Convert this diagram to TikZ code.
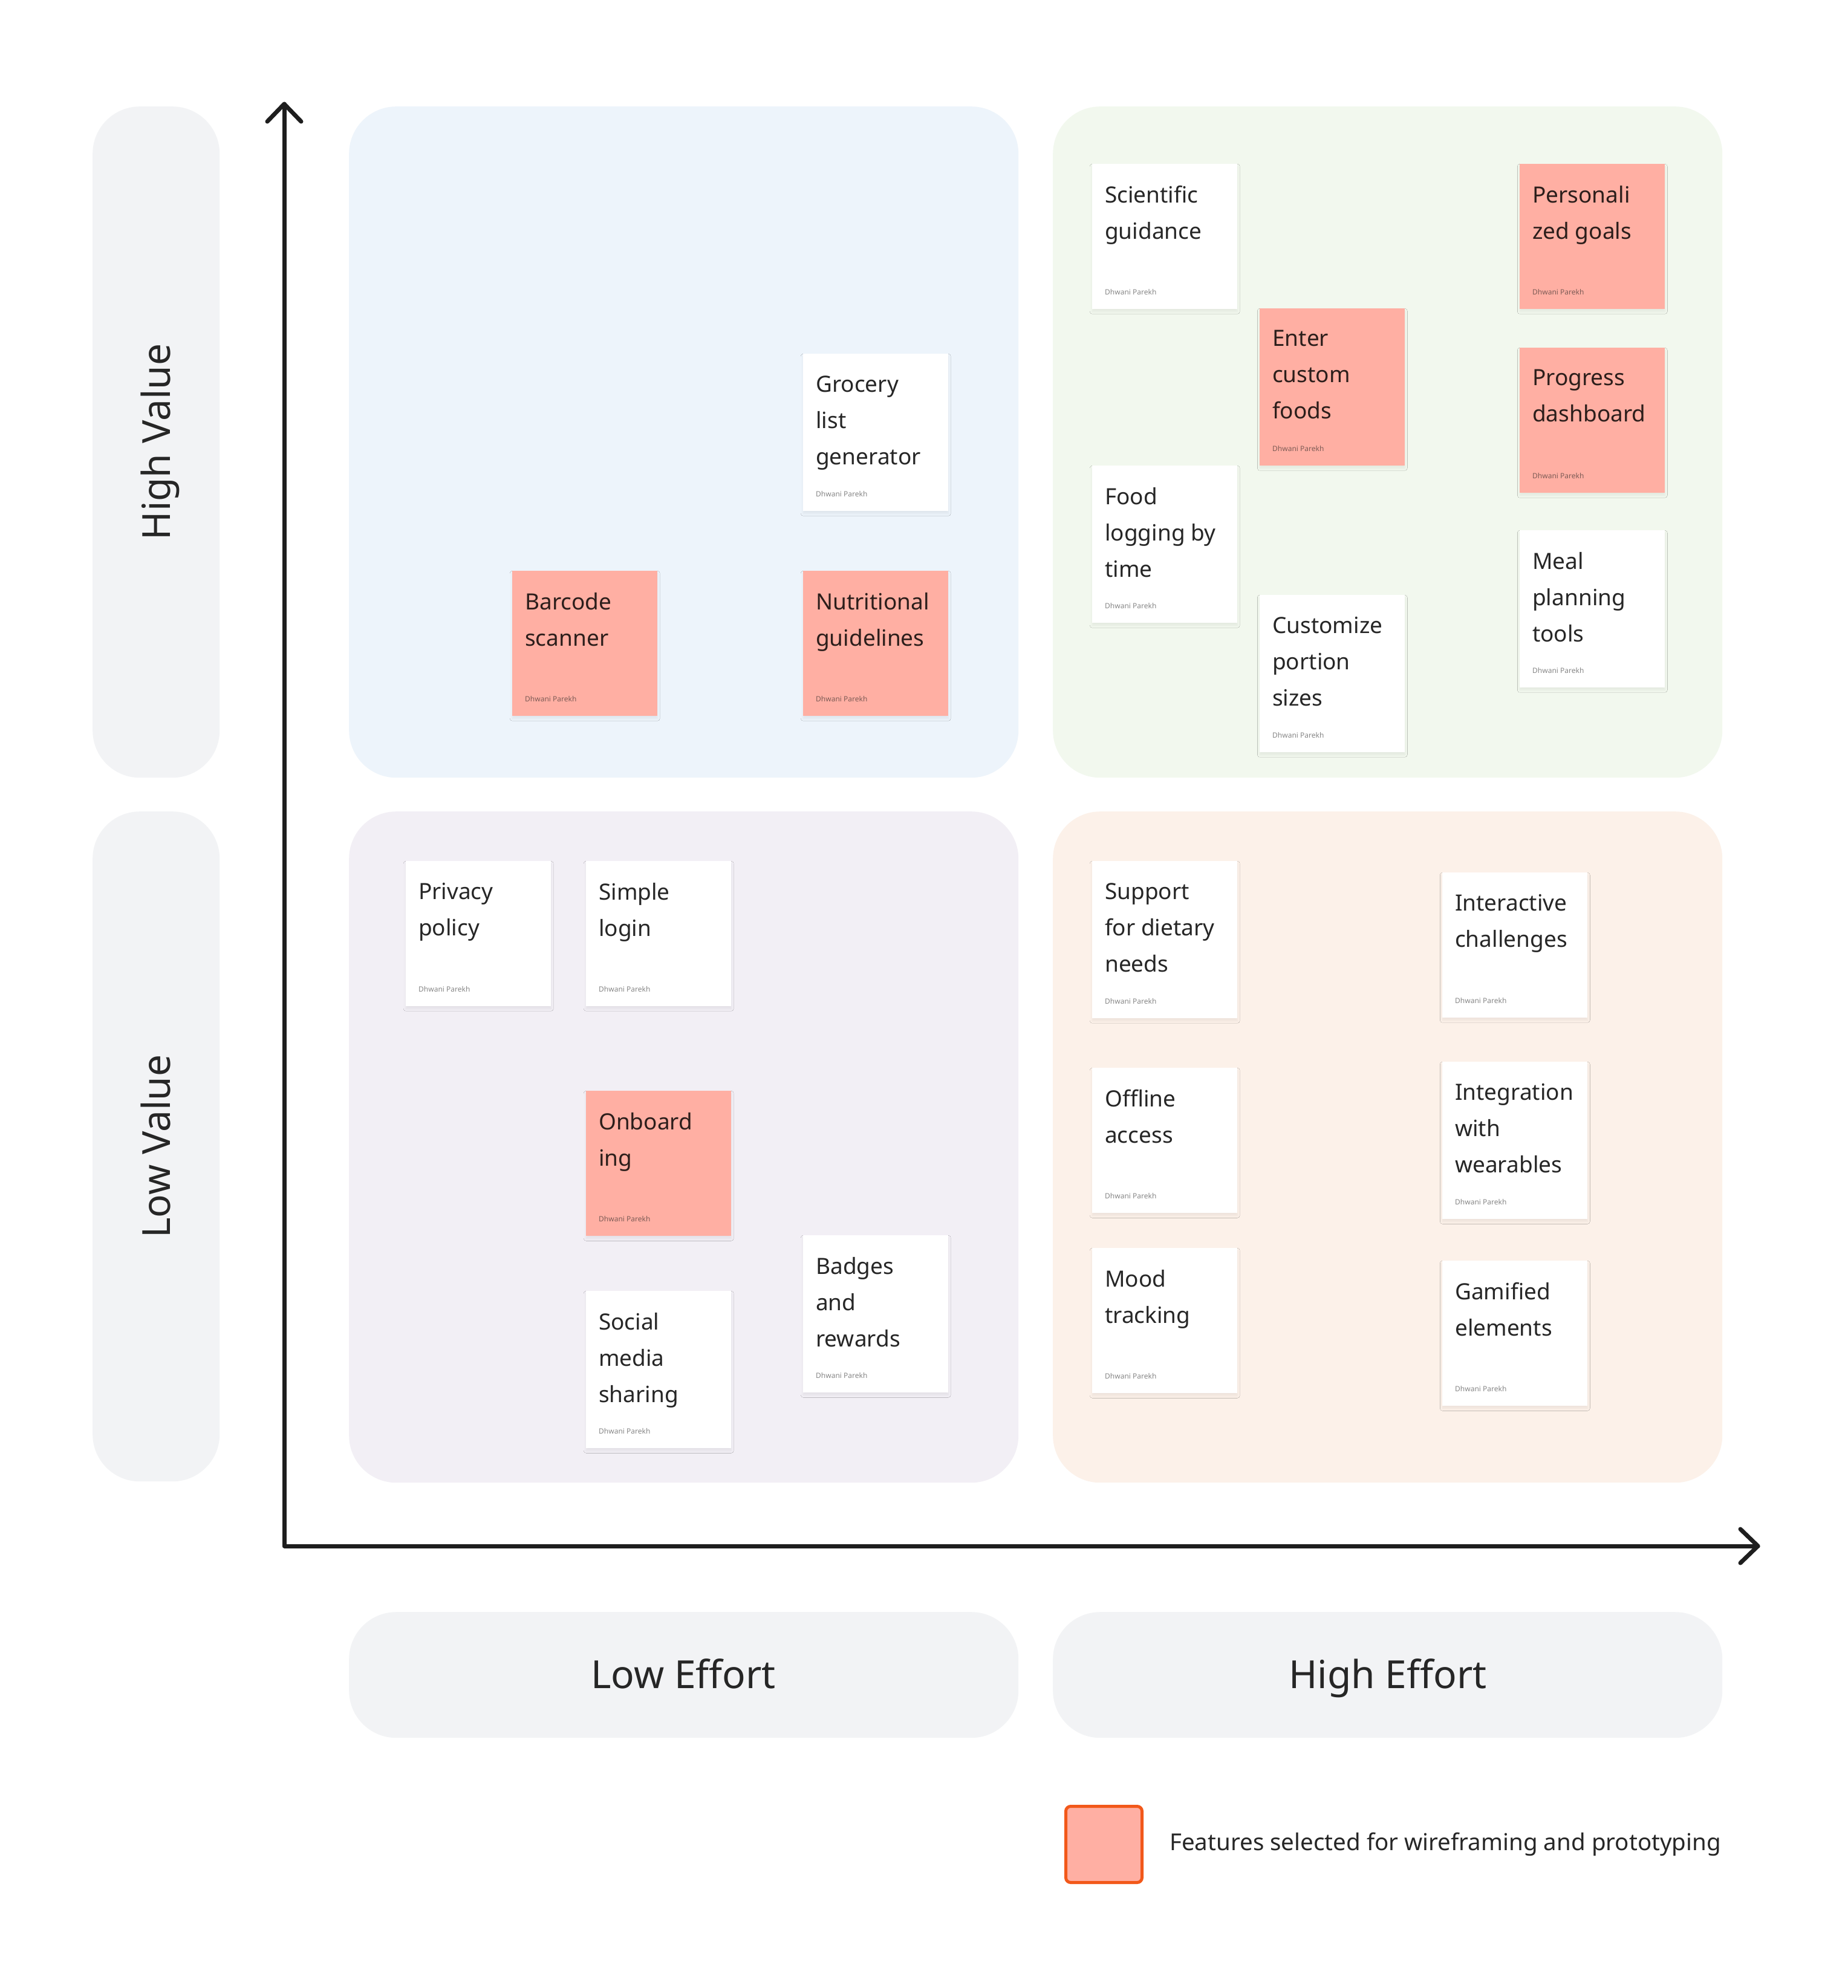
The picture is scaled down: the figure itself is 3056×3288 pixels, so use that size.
\documentclass[tikz,border=0pt]{standalone}
\usepackage{fontspec}
\setmainfont{Noto Sans}
\usetikzlibrary{calc,shadows.blur}
\definecolor{qblue}{RGB}{237,244,251}
\definecolor{qgreen}{RGB}{242,248,238}
\definecolor{qlav}{RGB}{242,239,245}
\definecolor{qpeach}{RGB}{252,241,233}
\definecolor{lgray}{RGB}{242,243,245}
\definecolor{salmon}{RGB}{255,175,163}
\definecolor{legborder}{RGB}{242,88,26}
\definecolor{ink}{RGB}{38,38,38}
\definecolor{inkr}{RGB}{44,30,27}
\definecolor{authw}{RGB}{135,135,135}
\definecolor{authr}{RGB}{125,92,86}
\definecolor{axisc}{RGB}{30,30,30}
\newcommand\stk[6]{%
  \node[stkbox-#5,minimum height=#4,anchor=north west] (#1) at (#2,#3) {};
  \node[stktxt-#5,anchor=north west] (#1-t) at ([shift={(21,36)}]#1.north west) {#6};
  \node[stkauth-#5,anchor=base west] (#1-a) at ([shift={(21,-24)}]#1.south west) {Dhwani Parekh};
}
\begin{document}
\begin{tikzpicture}[x=1pt,y=-1pt,
  quadbox/.style={draw=none,rounded corners=78pt,minimum width=1107pt,minimum height=1110pt,anchor=north west,inner sep=0pt},
  labbox/.style={draw=none,fill=lgray,rounded corners=78pt,anchor=north west,inner sep=0pt},
  labtxt/.style={font=\fontsize{64}{64}\selectfont,text=ink,inner sep=0pt},
  stkbase/.style={inner sep=0pt,minimum width=240pt,draw=none,
     blur shadow={shadow xshift=0pt,shadow yshift=-4pt,shadow blur radius=4pt,shadow opacity=6}},
  stkbox-w/.style={stkbase,fill=white},
  stkbox-r/.style={stkbase,fill=salmon},
  stktxtbase/.style={inner sep=0pt,align=left,font=\fontsize{37}{60}\selectfont,execute at begin node=\strut},
  stktxt-w/.style={stktxtbase,text=ink},
  stktxt-r/.style={stktxtbase,text=inkr},
  stkauth-w/.style={inner sep=0pt,font=\fontsize{12}{12}\selectfont,text=authw},
  stkauth-r/.style={inner sep=0pt,font=\fontsize{12}{12}\selectfont,text=authr},
  axis/.style={line width=7pt,draw=axisc,line cap=round,line join=round}]
\useasboundingbox (0,0) rectangle (3056,3288);
\fill[white] (0,0) rectangle (3056,3288);
% quadrants
\node[quadbox,fill=qblue]  (tl) at (577,176) {};
\node[quadbox,fill=qgreen] (tr) at (1741,176) {};
\node[quadbox,fill=qlav]   (bl) at (577,1342) {};
\node[quadbox,fill=qpeach] (br) at (1741,1342) {};
% value labels
\node[labbox,minimum width=210pt,minimum height=1110pt] (hvbox) at (153,176) {};
\node[labbox,minimum width=210pt,minimum height=1108pt] (lvbox) at (153,1342) {};
\node[labtxt,rotate=90,anchor=base] (hv) at (281,731) {High Value};
\node[labtxt,rotate=90,anchor=base] (lv) at (281,1896) {Low Value};
% effort labels
\node[labbox,minimum width=1107pt,minimum height=208pt] (lebox) at (577,2666) {};
\node[labbox,minimum width=1107pt,minimum height=208pt] (hebox) at (1741,2666) {};
\node[labtxt,anchor=base] (le) at (1130,2792) {Low Effort};
\node[labtxt,anchor=base] (he) at (2295,2792) {High Effort};
% axes
\coordinate (origin) at (470,2557);
\coordinate (ytop) at (470,172);
\coordinate (xend) at (2907,2557);
\draw[axis] (ytop) -- (origin) -- (xend);
\draw[axis] ([shift={(-28,29)}]ytop) -- (ytop) -- ([shift={(28,29)}]ytop);
\draw[axis] ([shift={(-29,-28)}]xend) -- (xend) -- ([shift={(-29,28)}]xend);
% stickies: top-left
\stk{grocery}{1328}{585}{260}{w}{Grocery\\list\\generator}
\stk{barcode}{847}{944}{240}{r}{Barcode\\scanner}
\stk{nutri}{1328}{944}{240}{r}{Nutritional\\guidelines}
% top-right
\stk{sci}{1806}{271}{240}{w}{Scientific\\guidance}
\stk{pers}{2513}{271}{240}{r}{Personali\\zed goals}
\stk{enter}{2083}{510}{260}{r}{Enter\\custom\\foods}
\stk{prog}{2513}{575}{240}{r}{Progress\\dashboard}
\stk{food}{1806}{770}{260}{w}{Food\\logging by\\time}
\stk{custom}{2083}{984}{260}{w}{Customize\\portion\\sizes}
\stk{meal}{2513}{877}{260}{w}{Meal\\planning\\tools}
% bottom-left
\stk{privacy}{671}{1424}{240}{w}{Privacy\\policy}
\stk{login}{969}{1424}{240}{w}{Simple\\login}
\stk{onboard}{969}{1804}{240}{r}{Onboard\\ing}
\stk{badges}{1328}{2043}{260}{w}{Badges\\and\\rewards}
\stk{social}{969}{2135}{260}{w}{Social\\media\\sharing}
% bottom-right
\stk{support}{1806}{1424}{260}{w}{Support\\for dietary\\needs}
\stk{inter}{2385}{1443}{240}{w}{Interactive\\challenges}
\stk{offline}{1806}{1766}{240}{w}{Offline\\access}
\stk{integ}{2385}{1756}{260}{w}{Integration\\with\\wearables}
\stk{mood}{1806}{2064}{240}{w}{Mood\\tracking}
\stk{gamif}{2385}{2085}{240}{w}{Gamified\\elements}
% legend
\node[draw=legborder,line width=5pt,fill=salmon,rounded corners=8pt,minimum width=126pt,minimum height=126pt,inner sep=0pt,anchor=north west] (legbox) at (1760,2985) {};
\node[anchor=west,inner sep=0pt,font=\fontsize{38.5}{38.5}\selectfont,text=ink] (legtxt) at (1934,3050) {Features selected for wireframing and prototyping};
\end{tikzpicture}
\end{document}
